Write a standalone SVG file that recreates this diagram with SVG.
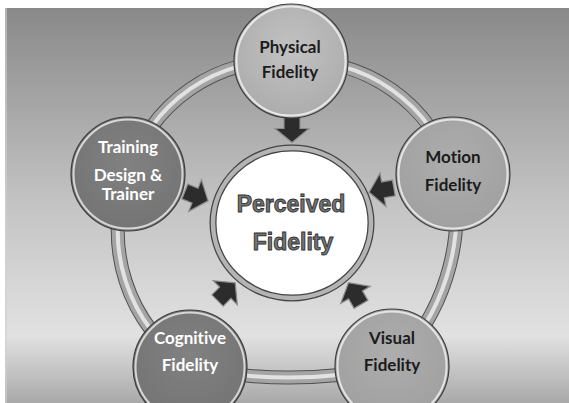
<svg xmlns="http://www.w3.org/2000/svg" width="569" height="403" viewBox="0 0 569 403">
  <defs>
    <linearGradient id="bg" x1="0" y1="0" x2="0" y2="1">
      <stop offset="0" stop-color="#898989"/>
      <stop offset="0.5" stop-color="#c4c4c4"/>
      <stop offset="0.83" stop-color="#e1e1e1"/>
      <stop offset="1" stop-color="#a9a9a9"/>
    </linearGradient>
    <radialGradient id="lightNode" cx="0.5" cy="0.4" r="0.6">
      <stop offset="0" stop-color="#c2c2c2"/>
      <stop offset="1" stop-color="#acacac"/>
    </radialGradient>
    <radialGradient id="midNode" cx="0.5" cy="0.4" r="0.6">
      <stop offset="0" stop-color="#adadad"/>
      <stop offset="1" stop-color="#a0a0a0"/>
    </radialGradient>
    <radialGradient id="darkNode" cx="0.5" cy="0.4" r="0.6">
      <stop offset="0" stop-color="#818181"/>
      <stop offset="1" stop-color="#747474"/>
    </radialGradient>
    <path id="arrowShape" d="M-12,-8 L-1,-8 L-1,-17 L13,0 L-1,17 L-1,8 L-12,8 Z"/>
  </defs>
  <style>
    .ring-edge { fill: none; stroke: #505050; stroke-width: 14; }
    .ring-band { fill: none; stroke: #a4a4a4; stroke-width: 12; }
    .ring-shine { fill: none; stroke: #e2e2e2; stroke-width: 4; }
    .node-disc { stroke: #3c3c3c; stroke-width: 1.2; }
    .node-rim { fill: none; stroke: #ffffff; stroke-opacity: 0.7; stroke-width: 2; }
    .label { font-family: Lato, "Liberation Sans", sans-serif; font-weight: bold; font-size: 17px; text-anchor: middle; font-variant-ligatures: none; }
    .dark { fill: #1c1c1c; }
    .light { fill: #ffffff; }
    .arrow { fill: #2c2c2c; stroke: #8c8c8c; stroke-width: 1.2; }
    .center-text { font-family: "Liberation Sans", Arial, sans-serif; font-weight: bold; font-size: 23px; text-anchor: middle; fill: #747474; stroke: #333333; stroke-width: 0.9; }
  </style>

  <!-- backdrop -->
  <rect x="0" y="0" width="569" height="403" fill="#ffffff"/>
  <rect x="5" y="8" width="564" height="395" fill="url(#bg)"/>
  <rect x="5" y="8" width="2" height="395" fill="#d0d0d0" opacity="0.6"/>

  <!-- outer ring joining the five factors -->
  <g id="connectors">
    <g id="ring">
      <path class="ring-edge" d="M291,61 A160,160 0 0 1 453,174 A215,215 0 0 1 392,366 A470,470 0 0 1 190,367 A164,164 0 0 1 128,174 A160,160 0 0 1 291,61 Z"/>
      <path class="ring-band" d="M291,61 A160,160 0 0 1 453,174 A215,215 0 0 1 392,366 A470,470 0 0 1 190,367 A164,164 0 0 1 128,174 A160,160 0 0 1 291,61 Z"/>
      <path class="ring-shine" d="M291,61 A160,160 0 0 1 453,174 A215,215 0 0 1 392,366 A470,470 0 0 1 190,367 A164,164 0 0 1 128,174 A160,160 0 0 1 291,61 Z"/>
    </g>
    <!-- block arrows pointing into the centre -->
    <use href="#arrowShape" class="arrow" transform="translate(292,129.5) rotate(90)"/>
    <use href="#arrowShape" class="arrow" transform="translate(382,190) rotate(170)"/>
    <use href="#arrowShape" class="arrow" transform="translate(355,294) rotate(-120)"/>
    <use href="#arrowShape" class="arrow" transform="translate(226,292) rotate(-45)"/>
    <use href="#arrowShape" class="arrow" transform="translate(196,196) rotate(22)"/>
  </g>

  <g id="perceived">
    <ellipse cx="292" cy="223" rx="79" ry="75" fill="#ffffff" stroke="#444444" stroke-width="7"/>
    <ellipse cx="292" cy="223" rx="79" ry="75" fill="none" stroke="#b4b4b4" stroke-width="4.5"/>
    <text class="center-text" x="291" y="212">Perceived</text>
    <text class="center-text" x="293" y="250">Fidelity</text>
  </g>

  <g id="physical">
    <circle class="node-disc" cx="291" cy="61" r="57" fill="url(#lightNode)"/>
    <circle class="node-rim" cx="291" cy="61" r="54.5"/>
    <text class="label dark" x="290" y="53">Physical</text>
    <text class="label dark" x="290" y="78">Fidelity</text>
  </g>

  <g id="motion">
    <circle class="node-disc" cx="453" cy="174" r="57" fill="url(#midNode)"/>
    <circle class="node-rim" cx="453" cy="174" r="54.5"/>
    <text class="label dark" x="453" y="163">Motion</text>
    <text class="label dark" x="453" y="191">Fidelity</text>
  </g>

  <g id="visual">
    <circle class="node-disc" cx="392" cy="366" r="57" fill="url(#midNode)"/>
    <circle class="node-rim" cx="392" cy="366" r="54.5"/>
    <text class="label dark" x="392" y="344">Visual</text>
    <text class="label dark" x="392" y="371">Fidelity</text>
  </g>

  <g id="cognitive">
    <circle class="node-disc" cx="190" cy="367" r="57" fill="url(#darkNode)"/>
    <circle class="node-rim" cx="190" cy="367" r="54.5"/>
    <text class="label light" x="190" y="344">Cognitive</text>
    <text class="label light" x="190" y="371">Fidelity</text>
  </g>

  <g id="training">
    <circle class="node-disc" cx="128" cy="174" r="57" fill="url(#darkNode)"/>
    <circle class="node-rim" cx="128" cy="174" r="54.5"/>
    <text class="label light" x="128" y="153">Training</text>
    <text class="label light" x="128" y="181">Design &amp;</text>
    <text class="label light" x="128" y="200">Trainer</text>
  </g>
</svg>
